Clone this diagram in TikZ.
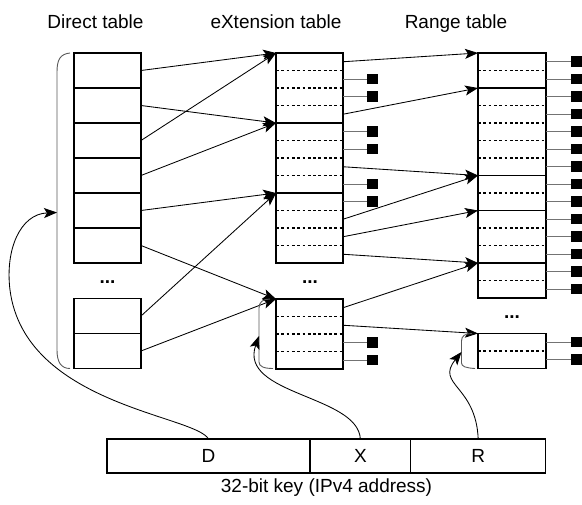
\documentclass[tikz,border=0pt]{standalone}
\usepackage{fontspec}
\setmainfont{Liberation Sans}
\usetikzlibrary{arrows.meta,calc}

\tikzset{
  tbl/.style={draw,line width=1.6pt,inner sep=0pt,outer sep=0pt,minimum width=67pt},
  sep/.style={line width=1.5pt,dash pattern=on 2.8pt off 2.5pt},
  link/.style={->,line width=0.85pt},
  leaf/.style={fill,inner sep=0pt,minimum size=10.5pt},
  stub/.style={black!55,line width=1.1pt},
  bracket/.style={black!65,line width=0.9pt},
  keybox/.style={draw,line width=1.5pt,inner sep=0pt,outer sep=0pt,minimum height=34pt,font=\fontsize{19}{22}\selectfont},
  lbl/.style={font=\fontsize{19}{22}\selectfont,anchor=base},
  dots/.style={font=\fontsize{19}{22}\selectfont\bfseries,anchor=base},
}

\begin{document}
\begin{tikzpicture}[x=1pt,y=-1pt,>={Stealth[length=13pt,width=10pt,inset=3pt]}]
\useasboundingbox (0,0) rectangle (582,505);
% headings
\node[lbl] (hd) at (95.5,28.5) {Direct table};
\node[lbl] (hx) at (276,28.5) {eXtension table};
\node[lbl] (hr) at (456,28.5) {Range table};

% direct table
\foreach \i/\y in {1/70.5,2/105.5,3/140.5,4/175.5,5/210.5,6/245.5,7/316,8/351}
  \node[tbl,minimum height=35pt] (d\i) at (107.5,\y) {};
\node[dots] (dd) at (107.5,283.5) {...};

% extension table
\foreach \i/\y in {1/88,2/158,3/228,4/334}
  \node[tbl,minimum height=70pt] (x\i) at (309.5,\y) {};
\foreach \i in {1,...,4}
  \foreach \k in {1,2,3}
    \draw[sep] ($(x\i.north west)+(0,17.5*\k)$) -- ($(x\i.north east)+(0,17.5*\k)$);
\node[dots] (xd) at (310,283.5) {...};
\foreach \k in {1,...,12} \coordinate (xr\k) at (343,{44.25+17.5*\k});
\foreach \k in {13,...,16} \coordinate (xr\k) at (343,{80.25+17.5*\k});
\foreach \k in {2,3,5,6,8,9,15,16}{
  \node[leaf,anchor=west] (xs\k) at ($(xr\k)+(24,0)$) {};
  \draw[stub] (xr\k) -- (xs\k);
}

% range table
\foreach \i/\y/\h in {1/70.5/35,2/131.75/87.5,3/193/35,4/236.75/52.5,5/280.5/35,6/351/35}
  \node[tbl,minimum width=68pt,minimum height=\h] (r\i) at (512,\y) {};
\foreach \i/\n in {1/1,2/4,3/1,4/2,5/1,6/1}
  \foreach \k in {1,...,\n}
    \draw[sep] ($(r\i.north west)+(0,17.5*\k)$) -- ($(r\i.north east)+(0,17.5*\k)$);
\node[dots] (rd) at (512,318.5) {...};
\foreach \k in {1,...,14} \coordinate (rr\k) at (546,{44.25+17.5*\k});
\coordinate (rr15) at (546,342.25);
\coordinate (rr16) at (546,359.75);
\foreach \k in {1,...,16}{
  \node[leaf,anchor=west] (rs\k) at ($(rr\k)+(25,0)$) {};
  \draw[stub] (rr\k) -- (rs\k);
}

% pointers
\foreach \a/\b in {1/1,2/2,3/1,4/2,5/3,6/4,7/3,8/4}
  \draw[link] (d\a.east) -- (x\b.north west);
\foreach \a/\b in {1/1,4/2,7/3,10/3,11/4,12/5,13/5,14/6}
  \draw[link] (xr\a) -- (r\b.north west);

% key
\node[keybox,minimum width=203pt] (kd) at (208.5,456) {D};
\node[keybox,minimum width=100.7pt] (kx) at (360.35,456) {X};
\node[keybox,minimum width=135pt] (kr) at (478.2,456) {R};
\node[lbl] (cap) at (326.5,492.6) {32-bit key (IPv4 address)};

% index brackets
\draw[bracket] (70,53) .. controls (60,54) and (57,60) .. (57,72) -- (57,350) .. controls (57,362) and (61,368.5) .. (70,368.5);
\draw[bracket] (270,299) .. controls (263,299) and (259,302) .. (259,308) -- (259,362) .. controls (259,366.5) and (264,368.5) .. (273,368.5);
\draw[bracket] (472,333.5) .. controls (465,333.5) and (461.5,336) .. (461.5,341) -- (461.5,363) .. controls (461.5,366.5) and (466,368) .. (475,368.5);
\coordinate (dbr) at (57,212.5);
\coordinate (xbr) at (259,336);
\coordinate (rbr) at (461.5,352);
\draw[link] (kd.north) .. controls (195,415) and (25,405) .. (10,290) .. controls (5,250) and (20,214) .. (dbr);
\draw[link] (kx.north) .. controls (358,395) and (238,395) .. (xbr);
\draw[link] (kr.north) .. controls (476,385) and (435,385) .. (rbr);
\end{tikzpicture}
\end{document}
